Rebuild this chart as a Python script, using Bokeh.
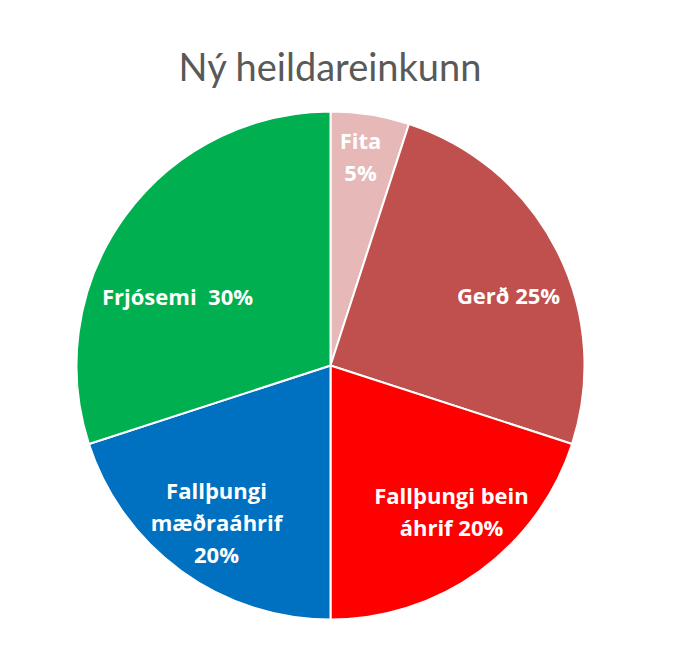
import numpy as np

from bokeh.core.properties import value
from bokeh.embed import file_html
from bokeh.models import ColumnDataSource
from bokeh.plotting import figure
from bokeh.resources import INLINE

# data
categories = ['Fita', 'Gerð', 'Fallþungi bein áhrif', 'Fallþungi mæðraáhrif', 'Frjósemi']
shares = [5, 25, 20, 20, 30]
colors = ['#E6B8B7', '#C0504D', '#FF0000', '#0070C0', '#00B050']
label_lines = [
    ['Fita', '5%'],
    ['Gerð 25%'],
    ['Fallþungi bein', 'áhrif 20%'],
    ['Fallþungi', 'mæðraáhrif', '20%'],
    ['Frjósemi\u00a0 30%'],
]

W, H = 683, 642
cx, cy, R = 330, H - 365, 254

# label anchor (pixels from top-left, centre of the text block)
label_pos = [(360, 155), (508, 294), (451, 510), (216, 521), (177, 295)]
line_gap = 32

frac = np.array(shares) / sum(shares)
ends = np.cumsum(frac)
starts = ends - frac

src = ColumnDataSource(dict(
    cat=categories,
    start=np.pi / 2 - 2 * np.pi * starts,
    end=np.pi / 2 - 2 * np.pi * ends,
    color=colors,
))

p = figure(width=W, height=H, x_range=(0, W), y_range=(0, H),
           output_backend="svg", toolbar_location=None,
           min_border=0, outline_line_color=None)
p.axis.visible = False
p.grid.visible = False

p.wedge(x=cx, y=cy, radius=R, start_angle='start', end_angle='end',
        direction='clock', fill_color='color', line_color='white',
        line_width=2, source=src)

tx, ty, tt = [], [], []
for lines, (x, y) in zip(label_lines, label_pos):
    n = len(lines)
    for i, t in enumerate(lines):
        tx.append(x)
        ty.append(H - (y + (i - (n - 1) / 2) * line_gap))
        tt.append(t)

p.text(x=tx, y=ty, text=tt, text_color='white', text_font=value('Open Sans'),
       text_font_style='bold', text_font_size='22px',
       text_align='center', text_baseline='middle')

p.text(x=[330], y=[H - 65], text=['Ný heildareinkunn'], text_color='#595959',
       text_font=value('Lato'), text_font_size='38px',
       text_align='center', text_baseline='middle')

open("out.html", "w").write(file_html(p, INLINE))
